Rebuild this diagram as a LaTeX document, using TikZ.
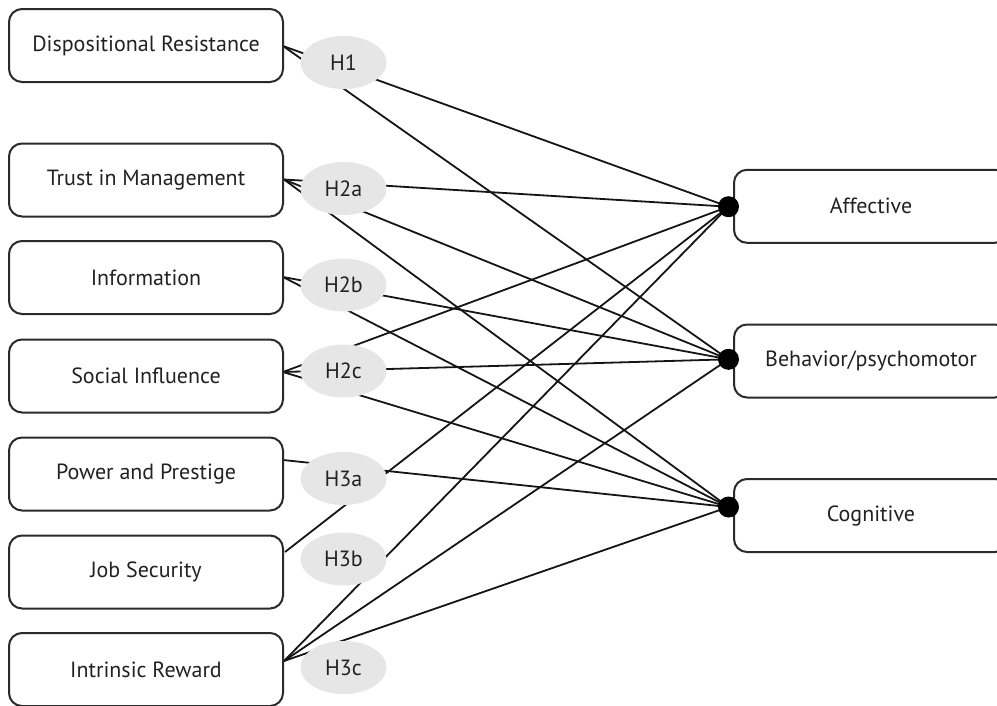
\documentclass[tikz,border=0pt]{standalone}
\usepackage{fontspec}
\setmainfont{PT Sans}
\usetikzlibrary{shapes.geometric}
\definecolor{boxgray}{HTML}{2A2A2A}
\definecolor{txtgray}{HTML}{222222}
\definecolor{ellgray}{HTML}{E6E6E6}
\definecolor{linegray}{HTML}{151515}
\begin{document}
\begin{tikzpicture}[x=1pt,y=-1pt,
  leftbox/.style={draw=boxgray, line width=2pt, rounded corners=13pt, fill=white,
    minimum width=274pt, minimum height=73pt, inner sep=0pt,
    font=\fontsize{22}{26}\selectfont, text=txtgray},
  hyp/.style={ellipse, fill=ellgray, minimum width=86pt, minimum height=53pt, inner sep=0pt,
    font=\fontsize{22}{26}\selectfont, text=txtgray},
  link/.style={line width=1.8pt, draw=linegray},
  hub/.style={circle, fill=black, minimum size=21pt, inner sep=0pt}]
\useasboundingbox (0,0) rectangle (997,705);

% anchors on the right edge of the left boxes
\coordinate (aD) at (283,46);
\coordinate (aT) at (284,179.5);
\coordinate (aI) at (283,277);
\coordinate (aS) at (283,372);
\coordinate (aP) at (283,460);
\coordinate (aJ) at (285,552);
\coordinate (aR) at (284,661);

% hubs
\coordinate (hA) at (728.5,206.7);
\coordinate (hB) at (728.5,359.3);
\coordinate (hC) at (728.5,507);

% connectors
\draw[link] (aD) -- (hA);
\draw[link] (aD) -- (hB);
\draw[link] (aT) -- (hA);
\draw[link] (aT) -- (hB);
\draw[link] (aT) -- (hC);
\draw[link] (aI) -- (hB);
\draw[link] (aI) -- (hC);
\draw[link] (aS) -- (hA);
\draw[link] (aS) -- (hB);
\draw[link] (aS) -- (hC);
\draw[link] (aP) -- (hC);
\draw[link] (aJ) -- (hA);
\draw[link] (aR) -- (hA);
\draw[link] (aR) -- (hB);
\draw[link] (aR) -- (hC);

% hypothesis ellipses
\node[hyp] (h1)  at (343.5,62.5)  {H1};
\node[hyp] (h2a) at (343.5,188.5) {H2a};
\node[hyp] (h2b) at (343.5,285)   {H2b};
\node[hyp] (h2c) at (343.5,371)   {H2c};
\node[hyp] (h3a) at (343.5,478.5) {H3a};
\node[hyp] (h3b) at (343.5,559)   {H3b};
\node[hyp] (h3c) at (343.5,667.5) {H3c};

% left boxes
\node[leftbox] (dr) at (146,45.5)  {Dispositional Resistance};
\node[leftbox] (tm) at (146,180)   {Trust in Management};
\node[leftbox] (in) at (146,277.5) {Information};
\node[leftbox] (si) at (146,376)   {Social Influence};
\node[leftbox] (pp) at (146,474)   {Power and Prestige};
\node[leftbox] (js) at (146,572)   {Job Security};
\node[leftbox] (ir) at (146,669.5) {Intrinsic Reward};

% right boxes
\node[leftbox] (af) at (871,206.3) {Affective};
\node[leftbox] (bp) at (871,361)   {Behavior/psychomotor};
\node[leftbox] (cg) at (871,515.5) {Cognitive};

% hub dots
\node[hub] (dA) at (hA) {};
\node[hub] (dB) at (hB) {};
\node[hub] (dC) at (hC) {};
\end{tikzpicture}
\end{document}
